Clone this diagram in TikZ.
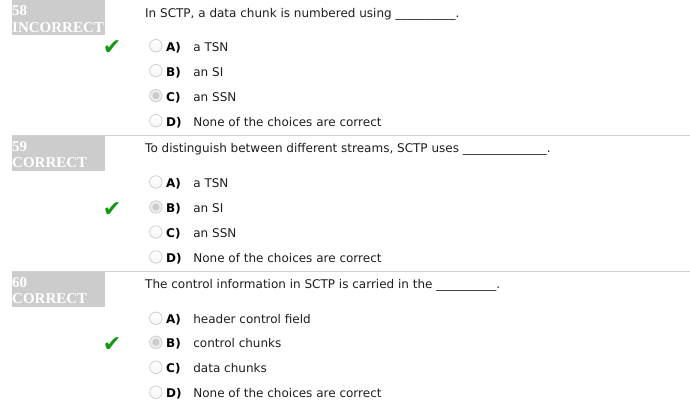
\documentclass[tikz,border=0pt]{standalone}
\usepackage{fontspec}
\setmainfont{DejaVu Sans}
\newfontfamily\numfont{Liberation Serif}
\usetikzlibrary{positioning}
\usetikzlibrary{backgrounds}
\definecolor{boxgray}{HTML}{CCCCCC}
\definecolor{linegray}{HTML}{D0D0D0}
\definecolor{ticgreen}{HTML}{119911}
\definecolor{txt}{HTML}{1E1E1E}
\definecolor{rim}{HTML}{CFCFCF}
\tikzset{qn/.style={inner sep=0pt,text height=8.7pt,text depth=0pt,anchor=west,text=txt,font=\fontsize{12}{14}\selectfont}}
\tikzset{lt/.style={qn,font=\fontsize{12}{14}\selectfont\bfseries,text=black}}
\tikzset{rd/.style={draw=rim,circle,top color=white,bottom color=gray!8,minimum size=12.5pt,inner sep=0pt,line width=0.8pt}}
\tikzset{rds/.style={rd,top color=gray!14,bottom color=gray!14,path picture={\fill[gray!40] (path picture bounding box.center) circle (3.6pt);}}}
\tikzset{ok/.style={text=ticgreen,font=\fontsize{22}{22}\selectfont,inner sep=0pt}}
\tikzset{nb/.style={fill=boxgray,text=white,font=\numfont\bfseries\fontsize{15}{16.7}\selectfont,align=left,anchor=north west,inner sep=0pt,minimum height=35pt,text width=93pt}}
\tikzset{hline/.style={draw=linegray,line width=1.3pt}}

\begin{document}
\begin{tikzpicture}[x=1pt,y=-1pt,background rectangle/.style={fill=white}, show background rectangle, inner frame sep=0pt]
\useasboundingbox (0,0) rectangle (690,410);

% question 58
\node [nb] (k1) at (12,0) {\rule{0pt}{12.5pt}58\\INCORRECT};
\node [qn] (q1) at (145,13.3) {In SCTP, a data chunk is numbered using \_\_\_\_\_\_\_\_\_\_.};
\node [lt] (l1a) at (166,46.7) {A)};
\node [rd, left=3.5pt of l1a.west, yshift=1pt] (r1a) {};
\node [qn, right=12pt of l1a.east] (t1a) {a TSN};
\node [lt] (l1b) at (166,71.7) {B)};
\node [rd, left=3.5pt of l1b.west, yshift=1pt] (r1b) {};
\node [qn] (t1b) at (t1a.west |- l1b.west) {an SI};
\node [lt] (l1c) at (166,96.7) {C)};
\node [rds, left=3.5pt of l1c.west, yshift=1pt] (r1c) {};
\node [qn] (t1c) at (t1a.west |- l1c.west) {an SSN};
\node [lt] (l1d) at (166,121.7) {D)};
\node [rd, left=3.5pt of l1d.west, yshift=1pt] (r1d) {};
\node [qn] (t1d) at (t1a.west |- l1d.west) {None of the choices are correct};
\node [ok] (c1) at (112,48) {✔};

\coordinate (s1) at (12,135.5);
\draw [hline] (s1) -- (s1 -| 690,0);

% question 59
\node [nb] (k2) at (12,135.7) {\rule{0pt}{12.5pt}59\\CORRECT};
\node [qn] (q2) at (145,148.3) {To distinguish between different streams, SCTP uses \_\_\_\_\_\_\_\_\_\_\_\_\_\_.};
\node [lt] (l2a) at (166,183) {A)};
\node [rd, left=3.5pt of l2a.west, yshift=1pt] (r2a) {};
\node [qn] (t2a) at (t1a.west |- l2a.west) {a TSN};
\node [lt] (l2b) at (166,208) {B)};
\node [rds, left=3.5pt of l2b.west, yshift=1pt] (r2b) {};
\node [qn] (t2b) at (t1a.west |- l2b.west) {an SI};
\node [lt] (l2c) at (166,233) {C)};
\node [rd, left=3.5pt of l2c.west, yshift=1pt] (r2c) {};
\node [qn] (t2c) at (t1a.west |- l2c.west) {an SSN};
\node [lt] (l2d) at (166,258) {D)};
\node [rd, left=3.5pt of l2d.west, yshift=1pt] (r2d) {};
\node [qn] (t2d) at (t1a.west |- l2d.west) {None of the choices are correct};
\node [ok] (c2) at (112,209.5) {✔};

\coordinate (s2) at (12,271.5);
\draw [hline] (s2) -- (s2 -| 690,0);

% question 60
\node [nb] (k3) at (12,271.7) {\rule{0pt}{12.5pt}60\\CORRECT};
\node [qn] (q3) at (145,284.3) {The control information in SCTP is carried in the \_\_\_\_\_\_\_\_\_\_.};
\node [lt] (l3a) at (166,319.3) {A)};
\node [rd, left=3.5pt of l3a.west, yshift=1pt] (r3a) {};
\node [qn] (t3a) at (t1a.west |- l3a.west) {header control field};
\node [lt] (l3b) at (166,343.3) {B)};
\node [rds, left=3.5pt of l3b.west, yshift=1pt] (r3b) {};
\node [qn] (t3b) at (t1a.west |- l3b.west) {control chunks};
\node [lt] (l3c) at (166,368.3) {C)};
\node [rd, left=3.5pt of l3c.west, yshift=1pt] (r3c) {};
\node [qn] (t3c) at (t1a.west |- l3c.west) {data chunks};
\node [lt] (l3d) at (166,393.3) {D)};
\node [rd, left=3.5pt of l3d.west, yshift=1pt] (r3d) {};
\node [qn] (t3d) at (t1a.west |- l3d.west) {None of the choices are correct};
\node [ok] (c3) at (112,345) {✔};
\end{tikzpicture}
\end{document}
